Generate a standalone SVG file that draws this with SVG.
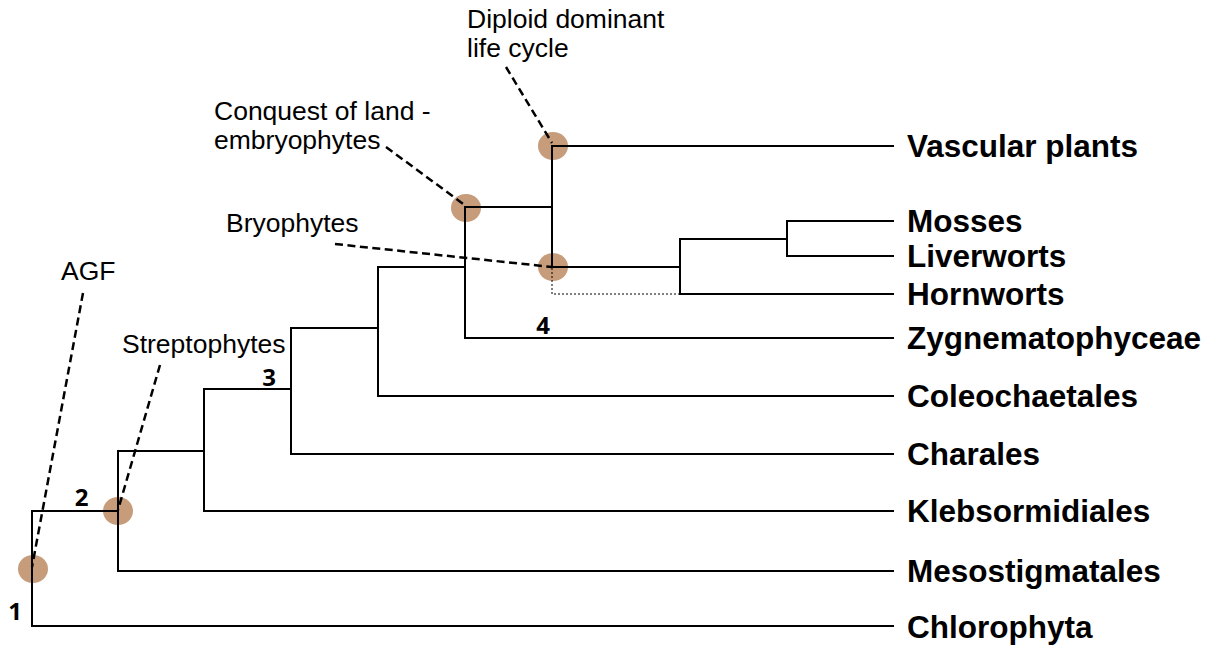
<svg xmlns="http://www.w3.org/2000/svg" width="1211" height="645" viewBox="0 0 1211 645">
<style>
.bg{fill:#ffffff}
.node{fill:#c69c7a}
.br{stroke:#000;stroke-width:2;fill:none;stroke-linecap:square}
.lead{stroke:#000;stroke-width:2.5;fill:none;stroke-dasharray:8,4.5}
.dot{stroke:#000;stroke-width:1;fill:none;stroke-dasharray:2,2}
.taxon{font-family:"Liberation Sans",Arial,sans-serif;font-weight:bold;font-size:31.5px;fill:#000}
.note{font-family:"Liberation Sans",Arial,sans-serif;font-size:26.5px;fill:#000}
.num{font-family:"Open Sans","Liberation Sans",sans-serif;font-weight:bold;font-size:24px;fill:#000;text-anchor:middle}
</style>
<rect class="bg" x="0" y="0" width="1211" height="645"/>
<g id="markers">
<ellipse class="node" cx="33" cy="569" rx="15" ry="14"/>
<ellipse class="node" cx="118" cy="511" rx="15" ry="14"/>
<ellipse class="node" cx="466" cy="208" rx="15" ry="14"/>
<ellipse class="node" cx="553" cy="146" rx="15" ry="14"/>
<ellipse class="node" cx="553" cy="267" rx="15" ry="14"/>
</g>
<g id="connectors">
<path class="br" d="M32 511 V626 H893"/>
<path class="br" d="M32 511 H118"/>
<path class="br" d="M118 451 V571 H893"/>
<path class="br" d="M118 451 H204"/>
<path class="br" d="M204 389 V511 H893"/>
<path class="br" d="M204 389 H291"/>
<path class="br" d="M291 328 V454 H893"/>
<path class="br" d="M291 328 H378"/>
<path class="br" d="M378 267 V396 H893"/>
<path class="br" d="M378 267 H465"/>
<path class="br" d="M465 207 V338 H893"/>
<path class="br" d="M465 207 H552"/>
<path class="br" d="M552 146 V267 H680"/>
<path class="br" d="M552 146 H893"/>
<path class="br" d="M680 239 V294 H893"/>
<path class="br" d="M680 239 H787"/>
<path class="br" d="M787 221 V256 H893"/>
<path class="br" d="M787 221 H893"/>
<path class="dot" d="M552 268 V294 H679"/>
<path class="lead" d="M83 293 L32 567"/>
<path class="lead" d="M160 365 L118 510"/>
<path class="lead" d="M335 244 L552 267"/>
<path class="lead" d="M386 147 L466 206"/>
<path class="lead" d="M506 67 L552 143"/>
</g>
<g id="labels">
<text class="taxon" x="907" y="157">Vascular plants</text>
<text class="taxon" x="907" y="232">Mosses</text>
<text class="taxon" x="907" y="267">Liverworts</text>
<text class="taxon" x="907" y="305">Hornworts</text>
<text class="taxon" x="907" y="349">Zygnematophyceae</text>
<text class="taxon" x="907" y="407">Coleochaetales</text>
<text class="taxon" x="907" y="465">Charales</text>
<text class="taxon" x="907" y="522">Klebsormidiales</text>
<text class="taxon" x="907" y="582">Mesostigmatales</text>
<text class="taxon" x="907" y="638">Chlorophyta</text>
</g>
<g id="notes">
<text class="note" x="467" y="28">Diploid dominant</text>
<text class="note" x="467" y="57">life cycle</text>
<text class="note" x="214" y="120">Conquest of land -</text>
<text class="note" x="214" y="149">embryophytes</text>
<text class="note" x="226" y="232">Bryophytes</text>
<text class="note" x="61" y="280">AGF</text>
<text class="note" x="122" y="353">Streptophytes</text>
</g>
<g id="numbers">
<text class="num" x="15" y="620">1</text>
<text class="num" x="81.5" y="506">2</text>
<text class="num" x="269" y="386">3</text>
<text class="num" x="543" y="334">4</text>
</g>
</svg>
